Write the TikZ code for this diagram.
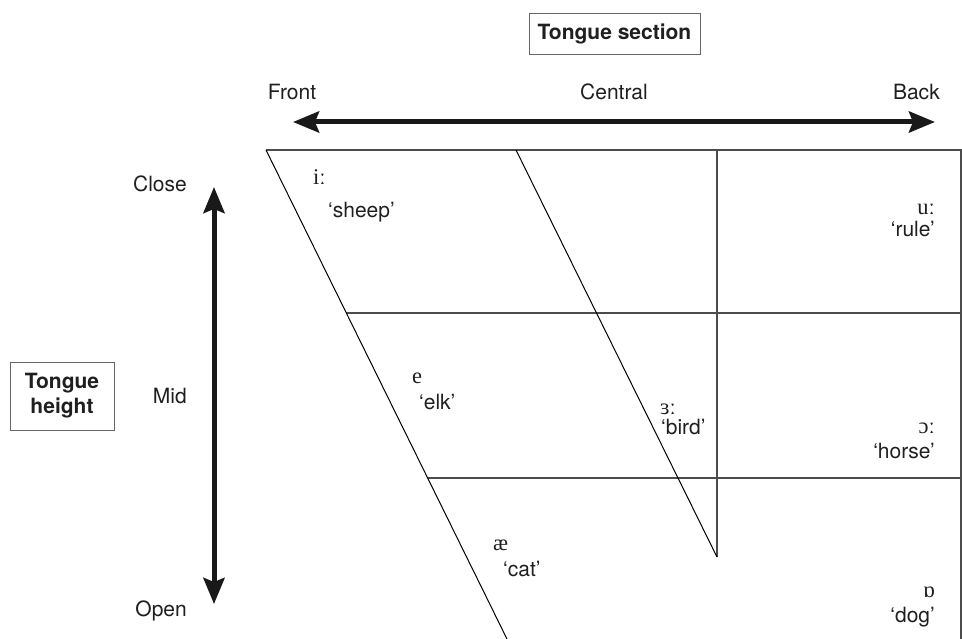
\documentclass[tikz,border=0pt]{standalone}
\usepackage{fontspec}
\setmainfont{TeX Gyre Heros}
\newfontfamily\ipafont{Liberation Serif}
\usetikzlibrary{arrows.meta}

\begin{document}
\begin{tikzpicture}[x=1pt,y=-1pt,
        every node/.style={inner sep=0pt,text=black!88,font=\fontsize{21}{25}\selectfont},
        grid/.style={line width=1.5pt,draw=black!70},
        slant/.style={line width=1pt,draw=black},
        bigarrow/.style={line width=5pt,draw=black!90,{Stealth[length=26pt,width=21pt,inset=4pt]}-{Stealth[length=26pt,width=21pt,inset=4pt]}},
        labelbox/.style={draw=black!60,line width=0.9pt,font=\bfseries\fontsize{21}{25}\selectfont,align=center},
        ipa/.style={font=\ipafont\fontsize{22.5}{26}\selectfont}]
        \useasboundingbox (0,0) rectangle (962,639);
        \node[labelbox,minimum width=171pt,minimum height=41pt] (sec) at (614.5,33.5) {Tongue section};
        \node[labelbox,minimum width=104pt,minimum height=68pt] (hgt) at (62,396) {Tongue\\height};
        \node[anchor=base] (front) at (292,100) {Front};
        \node[anchor=base] (central) at (614,100) {Central};
        \node[anchor=base east] (back) at (940,100) {Back};
        \node[anchor=base east] (close) at (187,192) {Close};
        \node[anchor=base east] (mid) at (187,403) {Mid};
        \node[anchor=base east] (open) at (187,616) {Open};
        \node (a0) at (293,122) {};
        \node (a1) at (935,122) {};
        \node (b0) at (214,187) {};
        \node (b1) at (214,604) {};
        \draw[bigarrow] (a0.center) -- (a1.center);
        \draw[bigarrow] (b0.center) -- (b1.center);
        \node (0) at (266,150) {};
        \node (1) at (961,150) {};
        \node (2) at (961,639) {};
        \node (3) at (507,639) {};
        \node (4) at (516,150) {};
        \node (5) at (717,557) {};
        \node (6) at (717,150) {};
        \node (7) at (346.3,313) {};
        \node (8) at (961,313) {};
        \node (9) at (427.6,478) {};
        \node (10) at (961,478) {};
        \draw[grid] (0.center) -- (1.center) -- (2.center);
        \draw[grid] (7.center) -- (8.center);
        \draw[grid] (9.center) -- (10.center);
        \draw[grid] (5.center) -- (6.center);
        \draw[slant] (0.center) -- (3.center);
        \draw[slant] (4.center) -- (5.center);
        \node[ipa,anchor=base west] (i) at (313,185) {iː};
        \node[anchor=base west] (sheep) at (328,218) {‘sheep’};
        \node[ipa,anchor=base east] (u) at (935,215) {uː};
        \node[anchor=base east] (rule) at (935,237) {‘rule’};
        \node[ipa,anchor=base west] (e) at (412,383) {e};
        \node[anchor=base west] (elk) at (419,409) {‘elk’};
        \node[ipa,anchor=base west] (er) at (660,414) {ɜː};
        \node[anchor=base west] (bird) at (661,434) {‘bird’};
        \node[ipa,anchor=base east] (o) at (935,433) {ɔː};
        \node[anchor=base east] (horse) at (935,458) {‘horse’};
        \node[ipa,anchor=base west] (ae) at (493,550) {æ};
        \node[anchor=base west] (cat) at (503,576) {‘cat’};
        \node[ipa,anchor=base east] (oo) at (935,597) {ɒ};
        \node[anchor=base east] (dog) at (935,622) {‘dog’};
    \end{tikzpicture}
\end{document}
